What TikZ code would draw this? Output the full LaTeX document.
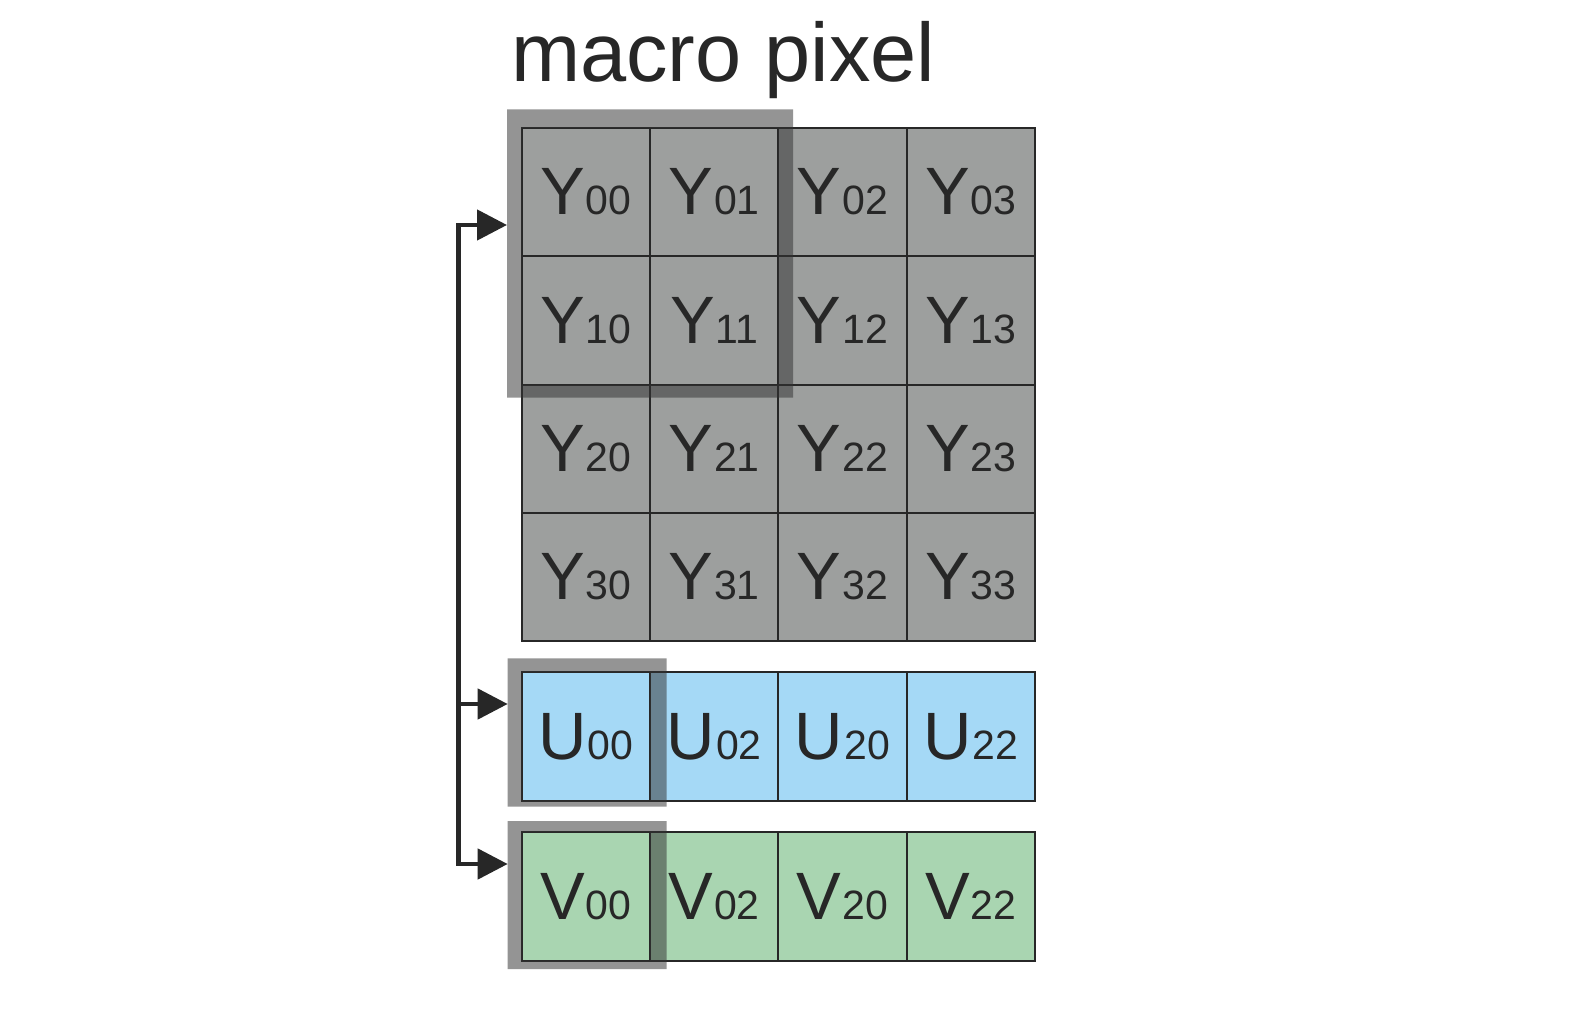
\documentclass[tikz,border=0pt]{standalone}
\usepackage{fontspec}
\setmainfont{Liberation Sans}
\usetikzlibrary{arrows.meta}
\definecolor{ink}{HTML}{272727}
\definecolor{ygray}{HTML}{9D9F9E}
\definecolor{ublue}{HTML}{A5D9F6}
\definecolor{vgreen}{HTML}{A9D5B1}
\definecolor{framec}{HTML}{333333}
\newcommand{\lbl}[2]{{\fontsize{67}{67}\selectfont #1}\kern1pt{\fontsize{41}{41}\selectfont #2}}
\tikzset{
  cellbox/.style={draw=ink, line width=1.8pt, minimum width=128.3pt, minimum height=128.3pt,
    inner sep=0pt, outer sep=0pt, text=ink, font=\fontsize{67}{67}\selectfont},
  ycell/.style={cellbox, fill=ygray},
  ucell/.style={cellbox, fill=ublue},
  vcell/.style={cellbox, fill=vgreen},
  framebox/.style={inner sep=0pt, outer sep=0pt},
  framefill/.style={fill=framec, fill opacity=0.52, even odd rule},
  conn/.style={draw=ink, line width=4.6pt, line join=miter, >={Triangle[length=30pt,width=30pt]}}
}
\begin{document}
\begin{tikzpicture}[x=1pt,y=-1pt]
\useasboundingbox[fill=white] (0,0) rectangle (1578,1024);
% title
\node[anchor=base west, inner sep=0pt, text=ink, font=\fontsize{83}{83}\selectfont] (title) at (511,82) {macro pixel};
% Y grid
\foreach \r in {0,1,2,3}{
  \foreach \c in {0,1,2,3}{
    \pgfmathsetmacro{\cx}{521.7+128.3*\c+64.15}
    \pgfmathsetmacro{\cy}{128+128.3*\r+64.15}
    \node[ycell] (Y\r\c) at (\cx,\cy) {\lbl{Y}{\r\c}};
  }
}
% U row
\node[ucell] (U00) at (585.85,736.45) {\lbl{U}{00}};
\node[ucell] (U02) at (714.15,736.45) {\lbl{U}{02}};
\node[ucell] (U20) at (842.45,736.45) {\lbl{U}{20}};
\node[ucell] (U22) at (970.75,736.45) {\lbl{U}{22}};
% V row
\node[vcell] (V00) at (585.85,896.45) {\lbl{V}{00}};
\node[vcell] (V02) at (714.15,896.45) {\lbl{V}{02}};
\node[vcell] (V20) at (842.45,896.45) {\lbl{V}{20}};
\node[vcell] (V22) at (970.75,896.45) {\lbl{V}{22}};
% macro pixel frames
\node[framebox, minimum width=286pt, minimum height=288pt] (fY) at (650,253.5) {};
\node[framebox, minimum width=159pt, minimum height=148.4pt] (fU) at (587.2,732.5) {};
\node[framebox, minimum width=159pt, minimum height=148pt] (fV) at (587.2,895) {};
\fill[framefill] (fY.north west) rectangle (fY.south east) (Y00.north west) rectangle (Y11.south east);
\fill[framefill] (fU.north west) rectangle (fU.south east) (U00.north west) rectangle (U00.south east);
\fill[framefill] (fV.north west) rectangle (fV.south east) (V00.north west) rectangle (V00.south east);
% connectors
\coordinate (b1) at (458.3,225);
\coordinate (b2) at (458.3,704);
\coordinate (b3) at (458.3,864);
\draw[conn, <->] (b1 -| fY.west) -- (b1) -- (b3) -- (b3 -| fV.west);
\draw[conn, ->] (b2) -- (b2 -| fU.west);
\end{tikzpicture}
\end{document}
